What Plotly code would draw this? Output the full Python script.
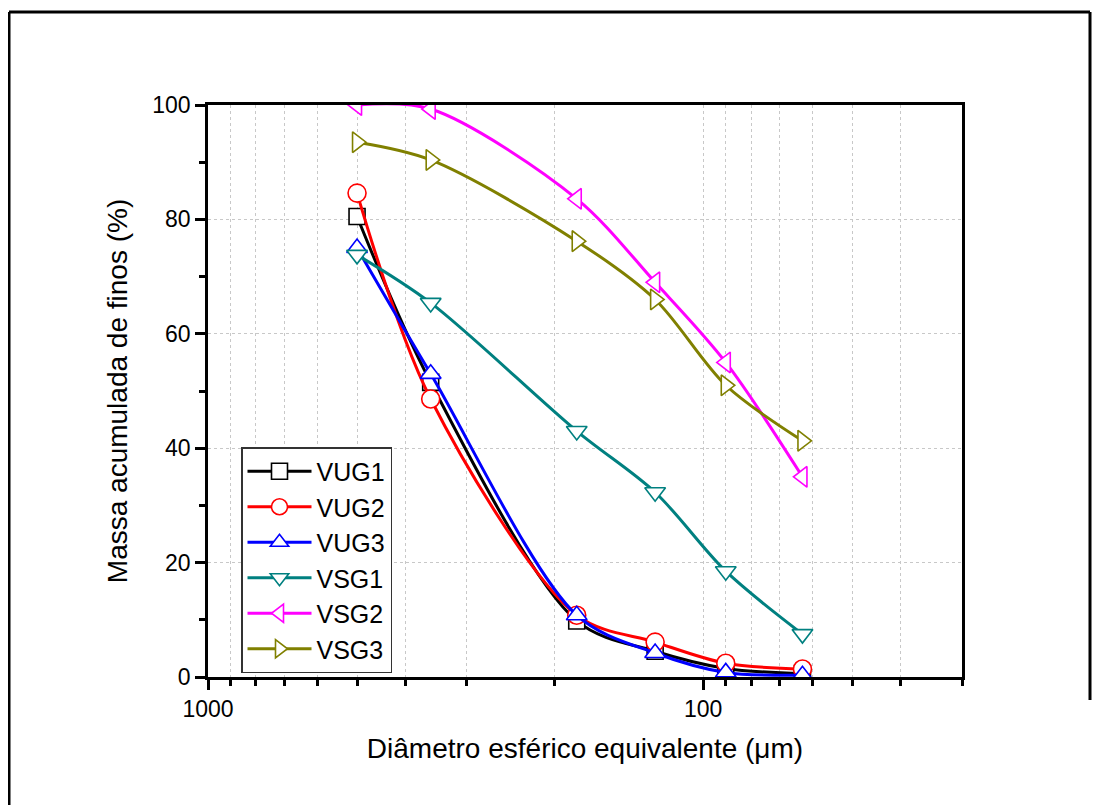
import plotly.graph_objects as go

# Data
diameters = [500, 355, 180, 125, 90, 63]
vug1 = [80.5, 51.5, 9.8, 4.5, 1.5, 0.6]
vug2 = [84.6, 48.6, 10.8, 6.1, 2.4, 1.4]
vug3 = [75.0, 53.0, 10.8, 4.2, 0.8, 0.3]
vsg1 = [73.8, 65.4, 43.0, 32.3, 18.5, 7.5]
vsg2 = [100.0, 99.3, 83.6, 69.0, 55.0, 35.0]
vsg3 = [93.5, 90.4, 76.2, 66.0, 51.0, 41.3]

series_names = ["VUG1", "VUG2", "VUG3", "VSG1", "VSG2", "VSG3"]
series_values = [vug1, vug2, vug3, vsg1, vsg2, vsg3]
colors = ["#000000", "#FF0000", "#0000FF", "#008080", "#FF00FF", "#808000"]
symbols = ["square", "circle", "triangle-up", "triangle-down", "triangle-left", "triangle-right"]
sizes = [16, 18, 18, 18, 18, 18]

x_major = [1000, 100]
x_minor = [900, 800, 700, 600, 500, 400, 300, 200, 90, 80, 70, 60, 50, 40, 30]

FONT = "Liberation Sans, Arial, sans-serif"

fig = go.Figure()
for name, vals, c, s, sz in zip(series_names, series_values, colors, symbols, sizes):
    fig.add_trace(go.Scatter(
        x=diameters, y=vals, name=name, mode="lines+markers",
        line=dict(color=c, width=3, shape="spline", smoothing=0.9),
        marker=dict(symbol=s, size=sz, color="white", line=dict(color=c, width=1.6)),
    ))

OFF = 8  # page body margin
W, H = 1101, 805
# plot area in screenshot pixels
L, R, T, B = 208, 962, 105, 677

def px_x(p):
    return (p - L) / (R - L)

def px_y(p):
    return (B - p) / (B - T)

fig.update_layout(
    width=W, height=H,
    margin=dict(l=L - OFF, r=W - (R - OFF), t=T - OFF, b=H - (B - OFF)),
    paper_bgcolor="white", plot_bgcolor="white",
    font=dict(family=FONT, color="black", size=23),
    showlegend=True,
    legend=dict(
        x=px_x(241), y=px_y(447), xanchor="left", yanchor="top",
        bordercolor="#333333", borderwidth=1.5, bgcolor="white",
        font=dict(size=25, family=FONT), itemwidth=64,
        tracegroupgap=0, itemsizing="trace",
    ),
    xaxis=dict(
        type="log", range=[3, 1.4771212547],
        tickvals=x_major, ticktext=[str(v) for v in x_major],
        ticks="outside", ticklen=10, tickwidth=2.5, tickcolor="black",
        showline=True, linecolor="black", linewidth=2.5, mirror=True,
        showgrid=True, gridcolor="#c8c8c8", griddash="dot", gridwidth=1,
        zeroline=False,
        tickfont=dict(size=23),
        minor=dict(tickvals=x_minor, ticks="outside", ticklen=6, tickwidth=2.5,
                   tickcolor="black", showgrid=True, gridcolor="#c8c8c8",
                   griddash="dot", gridwidth=1),
        title=dict(text="Diâmetro esférico equivalente (μm)", font=dict(size=28), standoff=18),
    ),
    yaxis=dict(
        range=[0, 100], tickvals=[0, 20, 40, 60, 80, 100],
        ticks="outside", ticklen=10, tickwidth=2.5, tickcolor="black",
        showline=True, linecolor="black", linewidth=2.5, mirror=True,
        showgrid=True, gridcolor="#c8c8c8", griddash="dot", gridwidth=1,
        zeroline=False,
        tickfont=dict(size=23),
        minor=dict(dtick=10, tick0=0, ticks="outside", ticklen=6, tickwidth=2.5,
                   tickcolor="black", showgrid=False),
        title=dict(text="Massa acumulada de finos (%)", font=dict(size=28), standoff=17),
    ),
)

# outer frame
frame = dict(color="black", width=3)
fig.add_shape(type="line", xref="paper", yref="paper",
              x0=px_x(9), x1=px_x(1090), y0=px_y(12), y1=px_y(12), line=frame)
fig.add_shape(type="line", xref="paper", yref="paper",
              x0=px_x(9), x1=px_x(9), y0=px_y(12), y1=px_y(820), line=frame)
fig.add_shape(type="line", xref="paper", yref="paper",
              x0=px_x(1090), x1=px_x(1090), y0=px_y(12), y1=px_y(700), line=frame)

fig.write_html("out.html")
